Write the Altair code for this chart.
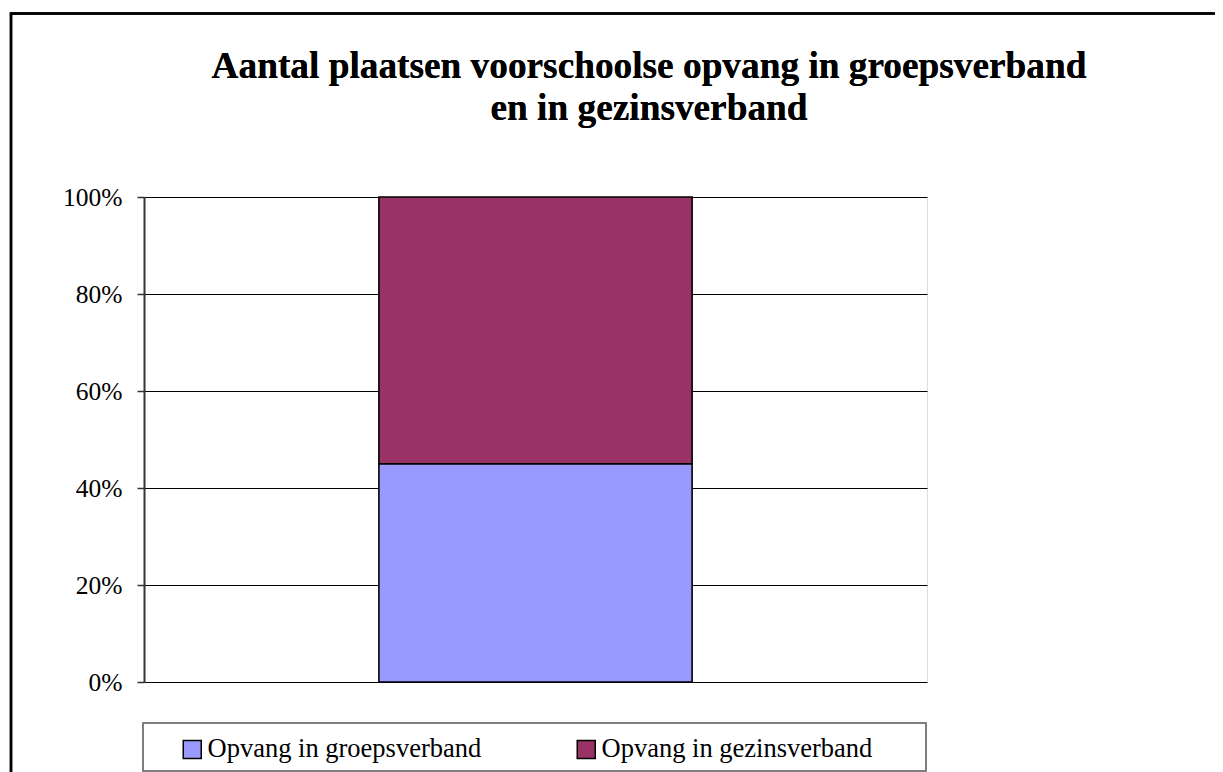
import altair as alt
import pandas as pd

categories = ["Voorschoolse opvang"]
series = ["Opvang in groepsverband", "Opvang in gezinsverband"]
values = [45, 55]
colors = ["#9999FF", "#993366"]
tick_values = [0, 0.2, 0.4, 0.6, 0.8, 1.0]
title_lines = ["Aantal plaatsen voorschoolse opvang in groepsverband", "en in gezinsverband"]

df = pd.DataFrame({
    "categorie": [categories[0]] * len(series),
    "reeks": series,
    "waarde": values,
    "volgorde": list(range(len(series))),
})

FONT = "Liberation Serif"

bars = alt.Chart(df).mark_bar(stroke="black", strokeWidth=1.6).encode(
    x=alt.X("categorie:N", axis=None,
            scale=alt.Scale(paddingInner=0, paddingOuter=0.75)),
    y=alt.Y("waarde:Q", stack="normalize",
            scale=alt.Scale(domain=[0, 1], nice=False),
            axis=alt.Axis(values=tick_values, format=".0%", title=None,
                          labelFont=FONT, labelFontSize=25.5, labelColor="black",
                          labelPadding=15, tickSize=7, tickColor="#333333",
                          tickWidth=1.5, domainColor="#333333", domainWidth=2,
                          grid=True, gridColor="black", gridWidth=1.2,
                          gridOpacity=1)),
    color=alt.Color("reeks:N",
                    scale=alt.Scale(domain=series, range=colors),
                    legend=alt.Legend(title=None, orient="none", direction="horizontal",
                                      legendX=35, legendY=539, padding=0,
                                      symbolType="square", symbolSize=324,
                                      symbolStrokeColor="black", symbolStrokeWidth=1.5,
                                      symbolOpacity=1, labelLimit=500,
                                      labelFont=FONT, labelFontSize=26.5, labelColor="black",
                                      labelOffset=2, columnPadding=91)),
    order=alt.Order("volgorde:Q", sort="ascending"),
)

legend_box = alt.Chart(df).mark_rect(fillOpacity=0, stroke="#777777", strokeWidth=1.5).encode(
    x=alt.value(-1), x2=alt.value(782), y=alt.value(526), y2=alt.value(574)
)

outer_border = alt.Chart(df).mark_rect(fillOpacity=0, stroke="black", strokeWidth=2.5).encode(
    x=alt.value(-133), x2=alt.value(1300), y=alt.value(-183.5), y2=alt.value(800)
)

title = alt.Chart(df).mark_text(
    font=FONT, fontSize=37.3, fontWeight="bold", color="black",
    align="center", baseline="alphabetic", lineHeight=42,
).encode(
    x=alt.value(505), y=alt.value(-119), text=alt.value(title_lines)
)

chart = alt.layer(outer_border, legend_box, bars, title).properties(
    width=783,
    height=485,
    autosize=alt.AutoSizeParams(type="none"),
    padding={"left": 136, "top": 189, "right": 288, "bottom": 116},
).configure_view(stroke="#808080", strokeWidth=1.5).configure(background="white")

chart.save("out.html", embed_options={"renderer": "svg", "actions": False})
